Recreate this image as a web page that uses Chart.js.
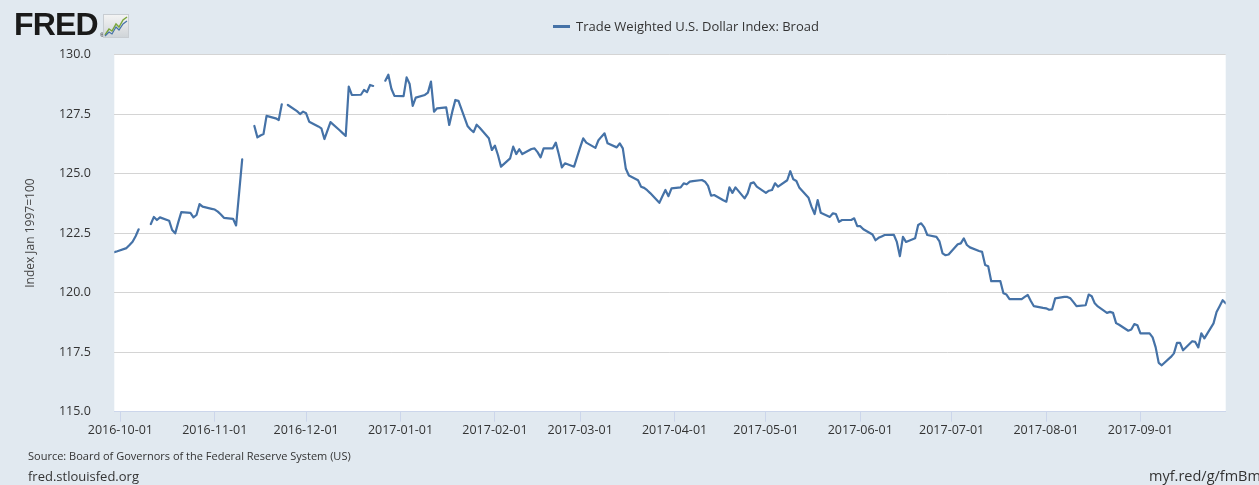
<!DOCTYPE html>
<html>
<head>
<meta charset="utf-8">
<script src="https://cdn.jsdelivr.net/npm/chart.js@4/dist/chart.umd.min.js"></script>
<style>
html,body{margin:0;padding:0;width:1259px;height:485px;overflow:hidden;background:#e1e9f0;font-family:"Open Sans",sans-serif;}
#wrap{position:relative;width:1259px;height:485px;overflow:hidden;}
#c{position:absolute;left:0;top:0;}
#logo{position:absolute;left:14px;top:6px;height:36px;white-space:nowrap;}
#logo .t{font-family:"Liberation Sans","Arial",sans-serif;font-weight:bold;font-size:32px;letter-spacing:-0.8px;color:#1a1a1a;line-height:36px;vertical-align:top;}
#logo .r{font-family:"Liberation Sans",sans-serif;font-size:6px;color:#1a1a1a;position:absolute;left:86px;top:26px;}
#logo svg{position:absolute;left:89px;top:8px;}
#legend{position:absolute;left:553px;top:17px;height:18px;white-space:nowrap;font-size:13px;color:#333;line-height:18px;}
#legend .sw{display:inline-block;width:17px;height:3px;background:#4572a7;vertical-align:middle;margin-right:6px;position:relative;top:-1px;}
#source{position:absolute;left:28px;top:448px;font-size:11px;color:#333;white-space:nowrap;line-height:15px;}
#site{position:absolute;left:28px;top:467px;font-size:13px;color:#333;white-space:nowrap;line-height:18px;}
#short{position:absolute;left:1149px;top:466px;font-size:14.5px;color:#333;white-space:nowrap;line-height:20px;}
</style>
</head>
<body>
<div id="wrap">
<canvas id="c" width="1259" height="485"></canvas>
<div id="logo"><span class="t">FRED</span><span class="r">®</span>
<svg width="26" height="24" viewBox="0 0 26 24">
<defs><linearGradient id="g" x1="0" y1="0" x2="0" y2="1"><stop offset="0" stop-color="#f4f4f4"/><stop offset="1" stop-color="#cfd4d8"/></linearGradient></defs>
<rect x="0.5" y="0.5" width="25" height="23" fill="url(#g)" stroke="#c8cdd2"/>
<polyline points="2,21 6,15 9,17 13,10 16,13 20,6 24,3" fill="none" stroke="#7aa63a" stroke-width="1.4"/>
<polyline points="2,22 6,18 9,20 13,13 16,16 20,10 24,7" fill="none" stroke="#4572a7" stroke-width="1.2"/>
</svg></div>
<div id="legend"><span class="sw"></span><span id="legtext"></span></div>
<div id="source">Source: Board of Governors of the Federal Reserve System (US)</div>
<div id="site">fred.stlouisfed.org</div>
<div id="short">myf.red/g/fmBm</div>
</div>
<script>
// ---- data ----
const seriesName = 'Trade Weighted U.S. Dollar Index: Broad';
const yAxisTitle = 'Index Jan 1997=100';
const yTicks = [115.0, 117.5, 120.0, 122.5, 125.0, 127.5, 130.0];
const xTickLabels = ['2016-10-01','2016-11-01','2016-12-01','2017-01-01','2017-02-01','2017-03-01','2017-04-01','2017-05-01','2017-06-01','2017-07-01','2017-08-01','2017-09-01'];

const dates = [
'2016-09-29','2016-09-30','2016-10-03','2016-10-04','2016-10-05','2016-10-06','2016-10-07','2016-10-10','2016-10-11','2016-10-12',
'2016-10-13','2016-10-14','2016-10-17','2016-10-18','2016-10-19','2016-10-20','2016-10-21','2016-10-24','2016-10-25','2016-10-26',
'2016-10-27','2016-10-28','2016-10-31','2016-11-01','2016-11-02','2016-11-03','2016-11-04','2016-11-07','2016-11-08','2016-11-09',
'2016-11-10','2016-11-11','2016-11-14','2016-11-15','2016-11-16','2016-11-17','2016-11-18','2016-11-21','2016-11-22','2016-11-23',
'2016-11-24','2016-11-25','2016-11-28','2016-11-29','2016-11-30','2016-12-01','2016-12-02','2016-12-05','2016-12-06','2016-12-07',
'2016-12-08','2016-12-09','2016-12-12','2016-12-13','2016-12-14','2016-12-15','2016-12-16','2016-12-19','2016-12-20','2016-12-21',
'2016-12-22','2016-12-23','2016-12-26','2016-12-27','2016-12-28','2016-12-29','2016-12-30','2017-01-02','2017-01-03','2017-01-04',
'2017-01-05','2017-01-06','2017-01-09','2017-01-10','2017-01-11','2017-01-12','2017-01-13','2017-01-16','2017-01-17','2017-01-18',
'2017-01-19','2017-01-20','2017-01-23','2017-01-24','2017-01-25','2017-01-26','2017-01-27','2017-01-30','2017-01-31','2017-02-01',
'2017-02-02','2017-02-03','2017-02-06','2017-02-07','2017-02-08','2017-02-09','2017-02-10','2017-02-13','2017-02-14','2017-02-15',
'2017-02-16','2017-02-17','2017-02-20','2017-02-21','2017-02-22','2017-02-23','2017-02-24','2017-02-27','2017-02-28','2017-03-01',
'2017-03-02','2017-03-03','2017-03-06','2017-03-07','2017-03-08','2017-03-09','2017-03-10','2017-03-13','2017-03-14','2017-03-15',
'2017-03-16','2017-03-17','2017-03-20','2017-03-21','2017-03-22','2017-03-23','2017-03-24','2017-03-27','2017-03-28','2017-03-29',
'2017-03-30','2017-03-31','2017-04-03','2017-04-04','2017-04-05','2017-04-06','2017-04-07','2017-04-10','2017-04-11','2017-04-12',
'2017-04-13','2017-04-14','2017-04-17','2017-04-18','2017-04-19','2017-04-20','2017-04-21','2017-04-24','2017-04-25','2017-04-26',
'2017-04-27','2017-04-28','2017-05-01','2017-05-02','2017-05-03','2017-05-04','2017-05-05','2017-05-08','2017-05-09','2017-05-10',
'2017-05-11','2017-05-12','2017-05-15','2017-05-16','2017-05-17','2017-05-18','2017-05-19','2017-05-22','2017-05-23','2017-05-24',
'2017-05-25','2017-05-26','2017-05-29','2017-05-30','2017-05-31','2017-06-01','2017-06-02','2017-06-05','2017-06-06','2017-06-07',
'2017-06-08','2017-06-09','2017-06-12','2017-06-13','2017-06-14','2017-06-15','2017-06-16','2017-06-19','2017-06-20','2017-06-21',
'2017-06-22','2017-06-23','2017-06-26','2017-06-27','2017-06-28','2017-06-29','2017-06-30','2017-07-03','2017-07-04','2017-07-05',
'2017-07-06','2017-07-07','2017-07-10','2017-07-11','2017-07-12','2017-07-13','2017-07-14','2017-07-17','2017-07-18','2017-07-19',
'2017-07-20','2017-07-21','2017-07-24','2017-07-25','2017-07-26','2017-07-27','2017-07-28','2017-07-31','2017-08-01','2017-08-02',
'2017-08-03','2017-08-04','2017-08-07','2017-08-08','2017-08-09','2017-08-10','2017-08-11','2017-08-14','2017-08-15','2017-08-16',
'2017-08-17','2017-08-18','2017-08-21','2017-08-22','2017-08-23','2017-08-24','2017-08-25','2017-08-28','2017-08-29','2017-08-30',
'2017-08-31','2017-09-01','2017-09-04','2017-09-05','2017-09-06','2017-09-07','2017-09-08','2017-09-11','2017-09-12','2017-09-13',
'2017-09-14','2017-09-15','2017-09-18','2017-09-19','2017-09-20','2017-09-21','2017-09-22','2017-09-25','2017-09-26','2017-09-27',
'2017-09-28','2017-09-29'
];

const values = [
121.70,121.74,121.87,122.00,122.14,122.37,122.66,null,122.88,123.18,
123.05,123.16,123.02,122.63,122.49,122.95,123.38,123.35,123.16,123.26,
123.72,123.61,123.52,123.49,123.40,123.28,123.14,123.10,122.82,124.20,
125.60,null,127.00,126.52,126.60,126.66,127.42,127.32,127.25,127.91,
null,127.88,127.62,127.50,127.60,127.53,127.18,126.98,126.90,126.45,
126.80,127.16,126.82,126.70,126.58,128.65,128.30,128.31,128.51,128.42,
128.72,128.68,null,128.90,129.15,128.56,128.26,128.25,129.04,128.76,
127.84,128.19,128.30,128.40,128.86,127.60,127.74,127.78,127.04,127.60,
128.09,128.06,127.00,126.85,126.74,127.05,126.92,126.48,125.99,126.17,
125.78,125.29,125.64,126.13,125.82,126.02,125.82,126.03,126.06,125.90,
125.68,126.06,126.06,126.30,125.80,125.26,125.43,125.29,125.70,126.10,
126.48,126.30,126.08,126.40,126.55,126.69,126.27,126.10,126.27,126.06,
125.20,124.92,124.72,124.45,124.40,124.30,124.18,123.77,124.05,124.31,
124.05,124.38,124.42,124.59,124.55,124.66,124.68,124.73,124.66,124.48,
124.07,124.10,123.88,123.82,124.42,124.19,124.42,123.96,124.17,124.59,
124.63,124.45,124.19,124.28,124.31,124.59,124.45,124.72,125.10,124.76,
124.69,124.40,123.98,123.60,123.30,123.89,123.35,123.18,123.33,123.30,
122.97,123.05,123.05,123.12,122.79,122.79,122.66,122.44,122.20,122.30,
122.36,122.42,122.43,122.13,121.53,122.34,122.13,122.28,122.84,122.91,
122.74,122.42,122.34,122.15,121.65,121.57,121.60,122.03,122.07,122.28,
122.00,121.90,121.75,121.71,121.16,121.11,120.48,120.48,119.97,119.92,
119.73,119.73,119.73,119.82,119.90,119.65,119.43,119.36,119.34,119.28,
119.30,119.76,119.82,119.82,119.76,119.60,119.43,119.47,119.92,119.85,
119.55,119.42,119.15,119.19,119.15,118.72,118.65,118.40,118.45,118.68,
118.63,118.29,118.29,118.12,117.70,117.05,116.95,117.30,117.45,117.89,
117.89,117.58,117.96,117.93,117.70,118.29,118.08,118.71,119.19,119.43,
119.68,119.55
];

// ---- helpers ----
function dayNum(s){const p=s.split('-').map(Number);return Date.UTC(p[0],p[1]-1,p[2])/86400000;}
const d0 = dayNum(dates[0]);
const points = dates.map((d,i)=>({x: dayNum(d)-d0, y: values[i]}));
const xTickVals = xTickLabels.map(s=>dayNum(s)-d0);
const xLabelByVal = {};
xTickVals.forEach((v,i)=>{xLabelByVal[v]=xTickLabels[i];});

document.getElementById('legtext').textContent = seriesName;

const plotBg = {
  id:'plotBg',
  beforeDraw(chart){
    const a=chart.chartArea, ctx=chart.ctx;
    ctx.save(); ctx.fillStyle='#ffffff';
    ctx.fillRect(a.left,a.top,a.right-a.left,a.bottom-a.top);
    ctx.restore();
  }
};

const tickFont = {family:'"Open Sans", sans-serif', size:12.5};

new Chart(document.getElementById('c'), {
  type:'line',
  data:{datasets:[{
    label: seriesName,
    data: points,
    borderColor:'#4572a7',
    backgroundColor:'#4572a7',
    borderWidth:2.2,
    pointRadius:0,
    pointHoverRadius:0,
    tension:0,
    spanGaps:false,
    borderJoinStyle:'round',
    borderCapStyle:'round'
  }]},
  options:{
    responsive:false,
    animation:false,
    events:[],
    layout:{padding:{left:0,top:54.5,right:33.3,bottom:33.3}},
    plugins:{legend:{display:false},tooltip:{enabled:false},title:{display:false}},
    scales:{
      x:{
        type:'linear',
        min:0,
        max:dayNum(dates[dates.length-1])-d0,
        afterFit(s){s.height=40;},
        afterBuildTicks(s){s.ticks = xTickVals.map(v=>({value:v}));},
        ticks:{autoSkip:false,maxRotation:0,minRotation:0,padding:1,color:'#333',font:tickFont,
          callback:(v)=>xLabelByVal[v]!==undefined?xLabelByVal[v]:''},
        grid:{drawOnChartArea:false,drawTicks:true,tickLength:10,color:'#ccd6eb',lineWidth:1},
        border:{display:true,color:'#ccd6eb'}
      },
      y:{
        min:115,max:130,
        afterFit(s){s.width=114.3;},
        afterBuildTicks(s){s.ticks = yTicks.map(v=>({value:v}));},
        ticks:{padding:23.5,color:'#333',font:tickFont,callback:(v)=>Number(v).toFixed(1)},
        grid:{color:'#d4d4d4',lineWidth:1,drawTicks:false},
        border:{display:false},
        title:{display:true,text:yAxisTitle,color:'#444',font:{family:'"Open Sans", sans-serif',size:12},padding:{top:23,bottom:0}}
      }
    }
  },
  plugins:[plotBg]
});
</script>
</body>
</html>
